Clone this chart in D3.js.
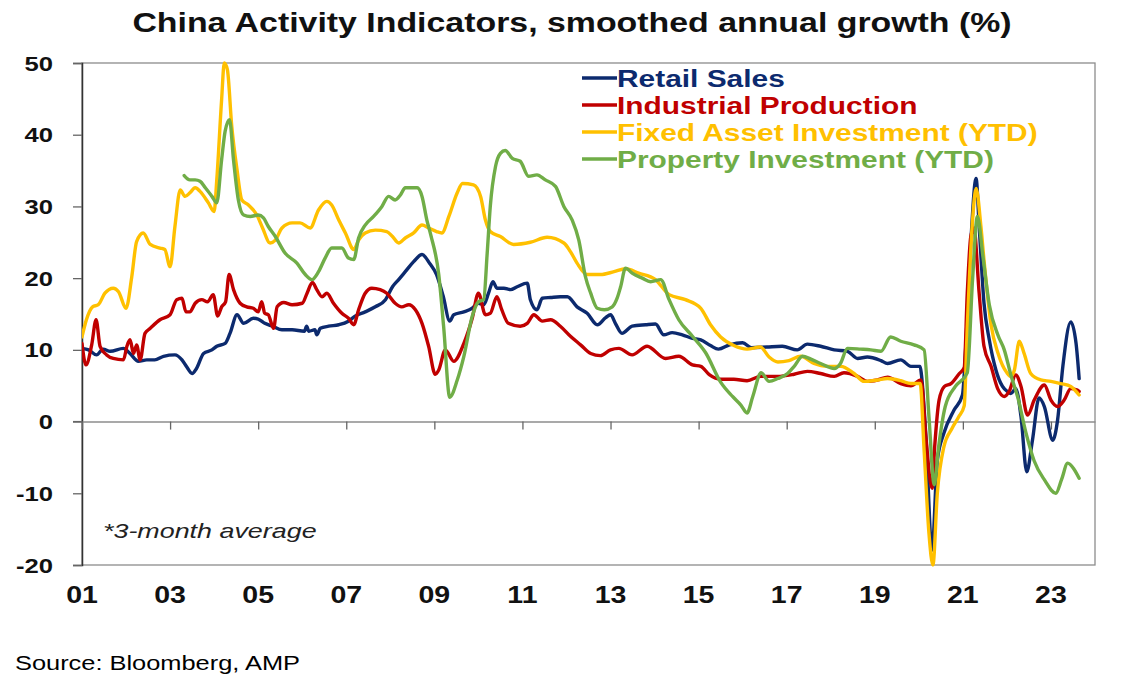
<!DOCTYPE html>
<html>
<head>
<meta charset="utf-8">
<script src="https://cdn.jsdelivr.net/npm/d3@7"></script>
<style>
  html, body { margin: 0; padding: 0; background: #fff; }
  svg { display: block; }
  text { font-family: "Liberation Sans", Arial, sans-serif; }
</style>
</head>
<body>
<div id="chart"></div>
<script>
/* China activity indicators, smoothed annual growth (%), D3 line chart */

const TITLE = 'China Activity Indicators, smoothed annual growth (%)';
const SOURCE = 'Source: Bloomberg, AMP';
const NOTE = '*3-month average';

const seriesNames = ['Retail Sales', 'Industrial Production', 'Fixed Asset Investment (YTD)', 'Property Investment (YTD)'];
const seriesColors = ['#0c2a6e', '#c00000', '#ffc000', '#70ad47'];

const yTicks = [50, 40, 30, 20, 10, 0, -10, -20];
const xTicks = [2001, 2003, 2005, 2007, 2009, 2011, 2013, 2015, 2017, 2019, 2021, 2023];

// [year (decimal), % y/y]
const retailSales = [
  [2001.00, 10.2], [2001.15, 10.0], [2001.33, 9.3], [2001.48, 10.1], [2001.64, 9.8], [2001.94, 10.2],
  [2002.09, 9.5], [2002.28, 8.4], [2002.47, 8.6], [2002.65, 8.6], [2002.85, 9.1], [2003.11, 9.3],
  [2003.27, 8.6], [2003.38, 7.6], [2003.50, 6.7], [2003.60, 7.4], [2003.76, 9.5], [2003.95, 10.0],
  [2004.06, 10.5], [2004.25, 10.9], [2004.36, 12.3], [2004.52, 14.9], [2004.67, 13.7], [2004.89, 14.4],
  [2005.00, 14.3], [2005.15, 13.7], [2005.33, 13.3], [2005.54, 12.8], [2005.77, 12.8], [2006.05, 12.6],
  [2006.10, 13.3], [2006.15, 12.6], [2006.29, 12.8], [2006.33, 12.1], [2006.41, 13.0], [2006.60, 13.3],
  [2006.83, 13.5], [2007.05, 14.0], [2007.20, 14.7], [2007.43, 15.3], [2007.66, 16.0], [2007.89, 17.0],
  [2008.05, 18.8], [2008.19, 19.8], [2008.34, 20.9], [2008.53, 22.3], [2008.72, 23.3], [2008.90, 22.0],
  [2009.05, 20.5], [2009.20, 17.5], [2009.35, 14.0], [2009.44, 14.9], [2009.67, 15.3], [2009.86, 15.8],
  [2010.00, 16.5], [2010.12, 16.3], [2010.23, 17.9], [2010.33, 19.5], [2010.42, 18.6], [2010.58, 18.6],
  [2010.73, 18.4], [2010.88, 18.8], [2011.11, 19.3], [2011.18, 17.0], [2011.33, 15.6], [2011.45, 17.2],
  [2011.64, 17.3], [2011.86, 17.4], [2012.02, 17.4], [2012.24, 16.0], [2012.47, 15.1], [2012.70, 13.5],
  [2012.89, 14.5], [2013.00, 14.9], [2013.11, 13.7], [2013.26, 12.3], [2013.49, 13.3], [2013.80, 13.5],
  [2014.02, 13.6], [2014.21, 12.1], [2014.40, 12.4], [2014.63, 12.1], [2014.86, 11.6], [2015.05, 11.4],
  [2015.27, 10.6], [2015.45, 10.1], [2015.70, 10.7], [2016.00, 11.0], [2016.20, 10.3], [2016.55, 10.4],
  [2016.90, 10.5], [2017.24, 10.0], [2017.47, 10.8], [2017.77, 10.5], [2018.08, 10.0], [2018.38, 9.8],
  [2018.61, 8.8], [2018.83, 9.0], [2019.14, 8.5], [2019.29, 8.1], [2019.59, 8.6], [2019.82, 7.7],
  [2020.03, 7.7], [2020.06, 6.5], [2020.16, -2.0], [2020.30, -17.9], [2020.42, -5.4], [2020.57, -1.6],
  [2020.80, 1.6], [2020.99, 3.7], [2021.07, 10.9], [2021.18, 24.9], [2021.30, 33.9], [2021.37, 27.2],
  [2021.48, 16.5], [2021.60, 11.4], [2021.75, 7.2], [2021.90, 4.9], [2022.01, 4.2], [2022.09, 3.9],
  [2022.20, 4.6], [2022.32, 0.7], [2022.45, -7.0], [2022.58, -2.6], [2022.73, 3.3], [2022.85, 2.1],
  [2023.04, -2.6], [2023.15, 0.2], [2023.27, 7.7], [2023.45, 13.9], [2023.57, 10.9], [2023.64, 6.0]
];

const industrialProduction = [
  [2001.00, 10.9], [2001.09, 7.9], [2001.22, 10.7], [2001.32, 14.2], [2001.41, 10.5], [2001.56, 9.3],
  [2001.71, 8.8], [2001.94, 8.6], [2002.02, 10.5], [2002.09, 11.4], [2002.17, 9.5], [2002.24, 10.7],
  [2002.32, 8.6], [2002.43, 12.3], [2002.55, 13.0], [2002.77, 14.2], [2003.00, 14.9], [2003.15, 17.0],
  [2003.27, 17.2], [2003.36, 15.3], [2003.45, 15.3], [2003.57, 16.5], [2003.72, 17.0], [2003.85, 16.7],
  [2003.98, 17.7], [2004.08, 14.7], [2004.17, 16.0], [2004.26, 16.7], [2004.34, 20.5], [2004.44, 18.4],
  [2004.59, 16.5], [2004.74, 16.0], [2004.89, 15.8], [2005.00, 15.3], [2005.08, 16.7], [2005.15, 15.1],
  [2005.23, 14.9], [2005.35, 13.0], [2005.43, 16.0], [2005.58, 16.6], [2005.77, 16.3], [2006.00, 16.5],
  [2006.11, 17.9], [2006.23, 19.4], [2006.33, 18.4], [2006.45, 17.4], [2006.56, 17.9], [2006.71, 16.5],
  [2006.90, 15.1], [2007.05, 14.4], [2007.17, 13.5], [2007.28, 15.6], [2007.43, 17.9], [2007.58, 18.6],
  [2007.77, 18.4], [2007.92, 17.9], [2008.11, 16.5], [2008.26, 16.0], [2008.42, 16.3], [2008.57, 15.6],
  [2008.72, 13.7], [2008.87, 10.5], [2009.02, 6.6], [2009.10, 7.2], [2009.25, 10.0], [2009.44, 8.4],
  [2009.67, 10.9], [2009.86, 14.4], [2010.00, 17.9], [2010.16, 14.9], [2010.27, 15.1], [2010.42, 17.4],
  [2010.53, 15.6], [2010.68, 13.7], [2010.95, 13.3], [2011.11, 13.7], [2011.26, 14.9], [2011.45, 14.0],
  [2011.64, 14.2], [2011.86, 13.3], [2012.09, 11.9], [2012.32, 10.7], [2012.55, 9.5], [2012.77, 9.2],
  [2013.00, 10.0], [2013.19, 10.2], [2013.49, 9.3], [2013.83, 10.5], [2014.25, 8.8], [2014.55, 9.1],
  [2014.86, 7.9], [2015.05, 7.7], [2015.25, 6.5], [2015.50, 5.9], [2015.80, 5.9], [2016.10, 5.7],
  [2016.41, 6.3], [2016.79, 6.3], [2017.17, 6.6], [2017.47, 7.0], [2017.77, 6.7], [2018.08, 6.3],
  [2018.30, 6.8], [2018.61, 6.3], [2018.83, 5.6], [2019.06, 5.8], [2019.29, 6.2], [2019.59, 5.3],
  [2019.82, 5.0], [2020.05, 5.8], [2020.16, -2.1], [2020.30, -9.3], [2020.36, -3.5], [2020.46, 3.0],
  [2020.58, 4.9], [2020.73, 5.3], [2020.92, 6.7], [2021.03, 7.5], [2021.10, 17.9], [2021.18, 25.8],
  [2021.25, 27.0], [2021.37, 17.9], [2021.48, 10.5], [2021.64, 7.7], [2021.79, 4.6], [2021.94, 3.5],
  [2022.05, 4.2], [2022.20, 6.5], [2022.32, 4.9], [2022.47, 0.9], [2022.62, 3.0], [2022.85, 5.1],
  [2023.00, 3.0], [2023.15, 2.1], [2023.30, 3.0], [2023.45, 4.6], [2023.60, 4.4], [2023.64, 4.2]
];

const fixedAssetInvestment = [
  [2001.00, 11.8], [2001.10, 14.2], [2001.24, 16.0], [2001.37, 16.3], [2001.52, 17.9], [2001.71, 18.6],
  [2001.83, 18.1], [2002.00, 15.8], [2002.13, 20.2], [2002.24, 25.1], [2002.39, 26.3], [2002.55, 24.7],
  [2002.77, 24.2], [2002.88, 24.0], [2003.00, 21.6], [2003.11, 27.2], [2003.23, 32.3], [2003.34, 31.4],
  [2003.45, 31.9], [2003.57, 32.6], [2003.68, 32.1], [2003.87, 30.5], [2004.00, 29.3], [2004.06, 33.7],
  [2004.17, 44.9], [2004.23, 50.0], [2004.30, 49.1], [2004.40, 41.2], [2004.52, 35.1], [2004.63, 30.9],
  [2004.78, 30.2], [2004.97, 28.8], [2005.10, 27.0], [2005.27, 24.9], [2005.39, 25.3], [2005.54, 27.0],
  [2005.77, 27.7], [2005.95, 27.7], [2006.18, 27.0], [2006.37, 29.5], [2006.56, 30.7], [2006.67, 30.2],
  [2006.83, 28.1], [2006.98, 26.3], [2007.17, 24.0], [2007.28, 25.3], [2007.43, 26.3], [2007.66, 26.7],
  [2007.92, 26.5], [2008.05, 25.8], [2008.19, 24.9], [2008.34, 25.6], [2008.53, 26.3], [2008.72, 27.4],
  [2008.87, 27.0], [2009.05, 26.5], [2009.17, 26.3], [2009.33, 28.6], [2009.52, 31.9], [2009.64, 33.2],
  [2009.89, 33.0], [2010.05, 31.4], [2010.16, 28.1], [2010.27, 26.5], [2010.50, 25.8], [2010.80, 24.7],
  [2011.18, 25.0], [2011.56, 25.7], [2011.94, 24.9], [2012.09, 23.7], [2012.24, 22.1], [2012.47, 20.5],
  [2012.77, 20.5], [2013.08, 20.9], [2013.34, 21.3], [2013.64, 20.7], [2014.02, 19.8], [2014.33, 17.7],
  [2014.70, 17.0], [2015.05, 15.8], [2015.27, 13.5], [2015.50, 11.8], [2015.80, 10.6], [2016.10, 10.1],
  [2016.40, 10.4], [2016.60, 9.0], [2016.80, 8.3], [2017.05, 8.5], [2017.32, 9.1], [2017.62, 8.1],
  [2017.92, 7.7], [2018.23, 7.7], [2018.53, 6.7], [2018.76, 5.6], [2019.06, 5.8], [2019.29, 6.0],
  [2019.59, 5.7], [2019.82, 5.3], [2020.03, 5.3], [2020.12, -4.0], [2020.23, -15.6], [2020.32, -20.0],
  [2020.42, -10.0], [2020.57, -3.5], [2020.75, -1.0], [2020.90, 0.6], [2021.03, 2.2], [2021.10, 13.2],
  [2021.22, 28.1], [2021.30, 32.5], [2021.41, 27.2], [2021.48, 22.5], [2021.64, 13.5], [2021.80, 9.5],
  [2022.00, 6.8], [2022.09, 6.3], [2022.17, 7.2], [2022.28, 11.2], [2022.39, 9.5], [2022.54, 6.7],
  [2022.77, 5.8], [2023.00, 5.6], [2023.22, 5.3], [2023.45, 4.9], [2023.64, 3.7]
];

const propertyInvestment = [
  [2003.32, 34.3], [2003.45, 33.7], [2003.57, 33.7], [2003.68, 33.5], [2003.80, 32.6], [2003.95, 31.4],
  [2004.06, 30.5], [2004.17, 36.5], [2004.25, 40.5], [2004.35, 42.1], [2004.44, 36.5], [2004.55, 30.9],
  [2004.67, 28.8], [2004.82, 28.6], [2005.00, 28.8], [2005.12, 28.4], [2005.23, 27.2], [2005.39, 25.8],
  [2005.61, 23.5], [2005.88, 22.1], [2006.07, 20.5], [2006.22, 19.8], [2006.37, 20.9], [2006.52, 22.8],
  [2006.67, 24.2], [2006.90, 24.2], [2007.05, 22.8], [2007.17, 22.6], [2007.28, 25.6], [2007.43, 27.4],
  [2007.62, 28.6], [2007.81, 30.0], [2007.96, 31.4], [2008.11, 30.9], [2008.23, 31.6], [2008.34, 32.6],
  [2008.49, 32.6], [2008.61, 32.6], [2008.72, 31.4], [2008.83, 28.1], [2008.92, 26.0], [2009.10, 20.5],
  [2009.21, 13.3], [2009.35, 3.4], [2009.52, 5.8], [2009.67, 9.1], [2009.86, 14.7], [2010.00, 16.7],
  [2010.12, 17.0], [2010.20, 23.5], [2010.27, 30.0], [2010.39, 35.6], [2010.50, 37.4], [2010.61, 37.8],
  [2010.77, 36.7], [2010.95, 36.3], [2011.14, 34.2], [2011.33, 34.4], [2011.52, 33.7], [2011.75, 32.8],
  [2011.94, 30.0], [2012.13, 28.1], [2012.28, 25.3], [2012.43, 20.2], [2012.55, 17.9], [2012.70, 15.8],
  [2012.86, 15.6], [2013.04, 16.0], [2013.15, 17.2], [2013.23, 18.8], [2013.34, 21.4], [2013.49, 20.7],
  [2013.72, 20.0], [2013.91, 19.5], [2014.14, 19.8], [2014.33, 17.0], [2014.55, 14.2], [2014.86, 11.9],
  [2015.16, 9.6], [2015.50, 5.5], [2015.77, 3.5], [2015.96, 2.3], [2016.10, 1.2], [2016.23, 3.5],
  [2016.42, 6.8], [2016.60, 5.6], [2016.80, 6.0], [2017.02, 6.7], [2017.17, 7.7], [2017.36, 9.1],
  [2017.55, 8.7], [2017.77, 8.1], [2018.08, 7.4], [2018.22, 8.1], [2018.38, 10.2], [2018.68, 10.1],
  [2018.91, 10.0], [2019.14, 9.8], [2019.36, 11.8], [2019.59, 11.2], [2019.89, 10.7], [2020.12, 10.0],
  [2020.23, 0.7], [2020.35, -8.8], [2020.45, -3.5], [2020.60, 2.1], [2020.83, 4.9], [2021.10, 6.8],
  [2021.22, 19.8], [2021.33, 28.6], [2021.46, 22.8], [2021.60, 16.3], [2021.80, 12.0], [2021.94, 10.0],
  [2022.09, 6.5], [2022.25, 3.3], [2022.43, -1.5], [2022.62, -5.5], [2022.86, -8.2], [2023.11, -10.0],
  [2023.24, -8.1], [2023.38, -5.8], [2023.52, -6.6], [2023.64, -7.9]
];

const seriesData = [retailSales, industrialProduction, fixedAssetInvestment, propertyInvestment];

const W = 1121, H = 691;
const margin = { top: 63, right: 26, bottom: 126, left: 82 };
const plotW = W - margin.left - margin.right;
const plotH = H - margin.top - margin.bottom;

const svg = d3.select('#chart').append('svg')
  .attr('width', W)
  .attr('height', H);

const x = d3.scaleLinear().domain([2001, 2024]).range([margin.left, margin.left + plotW]);
const y = d3.scaleLinear().domain([-20, 50]).range([margin.top + plotH, margin.top]);

// title (the source picture is stretched horizontally, so text is too)
svg.append('text')
  .attr('transform', `translate(572,32) scale(1.21,1)`)
  .attr('text-anchor', 'middle')
  .attr('font-size', 28)
  .attr('font-weight', 'bold')
  .attr('fill', '#111')
  .text(TITLE);

// plot frame
svg.append('rect')
  .attr('x', margin.left)
  .attr('y', margin.top)
  .attr('width', plotW)
  .attr('height', plotH)
  .attr('fill', 'none')
  .attr('stroke', '#8c8c8c')
  .attr('stroke-width', 1.3);

// y axis
const yAxis = svg.append('g')
  .attr('transform', `translate(${margin.left},0)`)
  .call(d3.axisLeft(y).tickValues(yTicks).tickSize(9).tickFormat(''));
yAxis.select('.domain').attr('stroke', '#333').attr('stroke-width', 1.5);
yAxis.selectAll('.tick line').attr('stroke', '#666').attr('stroke-width', 1.3);

svg.append('g').selectAll('text')
  .data(yTicks)
  .join('text')
  .attr('transform', (d) => `translate(53,${y(d) + 7.5}) scale(1.22,1)`)
  .attr('text-anchor', 'end')
  .attr('font-size', 21)
  .attr('font-weight', 'bold')
  .attr('fill', '#111')
  .text((d) => d);

// zero line with x ticks
const xAxis = svg.append('g')
  .attr('transform', `translate(0,${y(0)})`)
  .call(d3.axisBottom(x).tickValues(xTicks).tickSize(8).tickFormat('').tickSizeOuter(0));
xAxis.select('.domain').attr('stroke', '#8c8c8c').attr('stroke-width', 1.5);
xAxis.selectAll('.tick line').attr('stroke', '#666').attr('stroke-width', 1.3);

svg.append('line')
  .attr('x1', margin.left - 9).attr('x2', margin.left)
  .attr('y1', y(0)).attr('y2', y(0))
  .attr('stroke', '#666').attr('stroke-width', 1.3);

svg.append('g').selectAll('text')
  .data(xTicks)
  .join('text')
  .attr('transform', (d) => `translate(${x(d)},603) scale(1.24,1)`)
  .attr('text-anchor', 'middle')
  .attr('font-size', 23)
  .attr('font-weight', 'bold')
  .attr('fill', '#111')
  .text((d) => String(d % 100).padStart(2, '0'));

// lines
svg.append('clipPath').attr('id', 'plot-clip')
  .append('rect')
  .attr('x', margin.left).attr('y', margin.top - 2)
  .attr('width', plotW).attr('height', plotH + 4);

const line = d3.line()
  .x((d) => x(d[0]))
  .y((d) => y(d[1]))
  .curve(d3.curveMonotoneX);

svg.append('g')
  .attr('clip-path', 'url(#plot-clip)')
  .selectAll('path')
  .data(seriesData)
  .join('path')
  .attr('d', line)
  .attr('fill', 'none')
  .attr('stroke', (d, i) => seriesColors[i])
  .attr('stroke-width', 3.4)
  .attr('stroke-linejoin', 'round')
  .attr('stroke-linecap', 'round');

// legend
const legend = svg.append('g').attr('transform', 'translate(582,78)');
const legendRow = legend.selectAll('g')
  .data(seriesNames)
  .join('g')
  .attr('transform', (d, i) => `translate(0,${i * 27})`);
legendRow.append('line')
  .attr('x1', 0).attr('x2', 35)
  .attr('stroke', (d, i) => seriesColors[i])
  .attr('stroke-width', 3.4);
legendRow.append('text')
  .attr('transform', 'translate(35,8.5) scale(1.3,1)')
  .attr('font-size', 23)
  .attr('font-weight', 'bold')
  .attr('fill', (d, i) => seriesColors[i])
  .text((d) => d);

// note and source
svg.append('text')
  .attr('transform', 'translate(103,538) scale(1.28,1)')
  .attr('font-size', 21)
  .attr('font-style', 'italic')
  .attr('fill', '#222')
  .text(NOTE);

svg.append('text')
  .attr('x', 15)
  .attr('y', 670)
  .attr('font-family', '"Open Sans", "Noto Sans", sans-serif')
  .attr('font-size', 21)
  .attr('textLength', 285)
  .attr('lengthAdjust', 'spacingAndGlyphs')
  .attr('fill', '#000')
  .text(SOURCE);
</script>
</body>
</html>
